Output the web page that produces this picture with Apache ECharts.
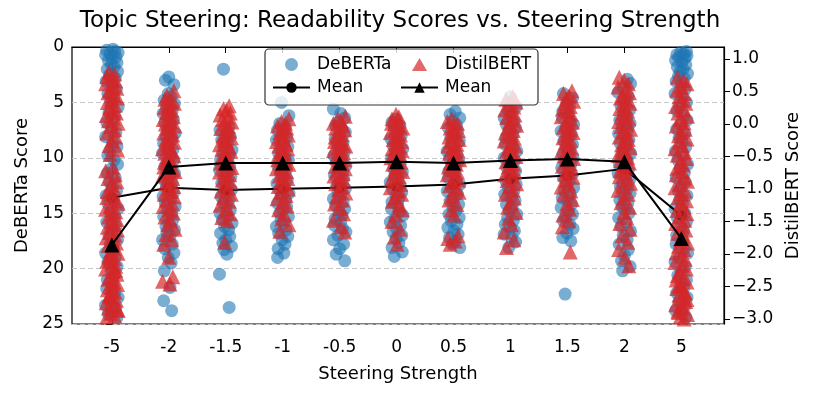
<!DOCTYPE html>
<html>
<head>
<meta charset="utf-8">
<script src="https://cdn.jsdelivr.net/npm/echarts@6/dist/echarts.min.js"></script>
<style>
html, body { margin: 0; background: #fff; }
#chart { width: 814px; height: 398px; }
</style>
</head>
<body>
<div id="chart"></div>
<script>
// steering strengths shown on the x axis
const steps = ['-5', '-2', '-1.5', '-1', '-0.5', '0', '0.5', '1', '1.5', '2', '5'];

// per-step means
const debertaMean = [13.6, 12.7, 12.9, 12.8, 12.7, 12.6, 12.4, 11.9, 11.6, 11.0, 15.2];
const distilMean = [-1.86, -0.66, -0.60, -0.60, -0.60, -0.58, -0.60, -0.56, -0.54, -0.58, -1.76];

// DeBERTa scores (left axis), one list per step
const debertaScores = [
  [0.2, 0.3, 0.4, 0.5, 0.6, 0.7, 0.9, 1.0, 1.2, 1.4, 1.6, 1.8, 2.0, 2.2, 2.5, 2.8, 3.1, 3.4, 3.8, 4.2, 4.6, 5.0, 5.4, 5.9, 6.3, 6.8, 7.2, 7.7, 8.1, 8.6, 9.0, 9.4, 9.8, 10.2, 10.6, 11.0, 11.4, 11.8, 12.2, 12.6, 13.0, 13.4, 13.8, 14.2, 14.6, 15.0, 15.4, 15.8, 16.2, 16.6, 17.0, 17.4, 17.8, 18.2, 18.6, 19.0, 19.4, 19.8, 20.2, 20.6, 21.0, 21.4, 21.8, 22.2, 22.6, 23.0, 23.3, 23.6, 23.9, 24.1, 24.4],
  [2.7, 3.0, 3.4, 4.2, 4.5, 4.8, 5.1, 5.4, 5.7, 6.0, 6.3, 6.6, 6.9, 7.2, 7.5, 7.8, 8.1, 8.4, 8.7, 9.0, 9.3, 9.6, 9.9, 10.2, 10.5, 10.8, 11.1, 11.4, 11.7, 12.0, 12.3, 12.6, 12.9, 13.2, 13.5, 13.8, 14.1, 14.4, 14.7, 15.0, 15.3, 15.6, 15.9, 16.2, 16.5, 16.8, 17.1, 17.4, 17.8, 18.2, 18.6, 19.0, 19.5, 20.2, 21.7, 22.9, 23.8],
  [2.0, 7.2, 7.5, 7.8, 8.1, 8.4, 8.7, 9.0, 9.3, 9.6, 9.9, 10.2, 10.5, 10.8, 11.1, 11.4, 11.7, 12.0, 12.3, 12.6, 12.9, 13.2, 13.5, 13.8, 14.1, 14.4, 14.7, 15.0, 15.3, 15.6, 15.9, 16.2, 16.5, 16.8, 17.1, 17.4, 17.7, 18.0, 18.3, 18.7, 20.5, 23.5],
  [5.0, 6.2, 6.9, 7.2, 7.5, 7.8, 8.1, 8.4, 8.7, 9.0, 9.3, 9.6, 9.9, 10.2, 10.5, 10.8, 11.1, 11.4, 11.7, 12.0, 12.3, 12.6, 12.9, 13.2, 13.5, 13.8, 14.1, 14.4, 14.7, 15.0, 15.3, 15.6, 15.9, 16.2, 16.5, 16.8, 17.1, 17.4, 17.8, 18.2, 18.6, 19.0],
  [5.6, 6.0, 6.4, 6.8, 7.1, 7.4, 7.7, 8.0, 8.3, 8.6, 8.9, 9.2, 9.5, 9.8, 10.1, 10.4, 10.7, 11.0, 11.3, 11.6, 11.9, 12.2, 12.5, 12.8, 13.1, 13.4, 13.7, 14.0, 14.3, 14.6, 14.9, 15.2, 15.5, 15.8, 16.1, 16.4, 16.7, 17.0, 17.4, 17.8, 18.2, 18.7, 19.3],
  [6.5, 6.8, 7.1, 7.4, 7.7, 8.0, 8.3, 8.6, 8.9, 9.2, 9.5, 9.8, 10.1, 10.4, 10.7, 11.0, 11.3, 11.6, 11.9, 12.2, 12.5, 12.8, 13.1, 13.4, 13.7, 14.0, 14.3, 14.6, 14.9, 15.2, 15.5, 15.8, 16.1, 16.4, 16.7, 17.0, 17.3, 17.7, 18.1, 18.5, 18.9],
  [5.8, 6.1, 6.4, 6.7, 7.0, 7.3, 7.6, 7.9, 8.2, 8.5, 8.8, 9.1, 9.4, 9.7, 10.0, 10.3, 10.6, 10.9, 11.2, 11.5, 11.8, 12.1, 12.4, 12.7, 13.0, 13.3, 13.6, 13.9, 14.2, 14.5, 14.8, 15.1, 15.4, 15.7, 16.0, 16.3, 16.6, 16.9, 17.2, 17.5, 17.8, 18.1],
  [4.5, 5.0, 5.4, 5.8, 6.1, 6.4, 6.7, 7.0, 7.3, 7.6, 7.9, 8.2, 8.5, 8.8, 9.1, 9.4, 9.7, 10.0, 10.3, 10.6, 10.9, 11.2, 11.5, 11.8, 12.1, 12.4, 12.7, 13.0, 13.3, 13.6, 13.9, 14.2, 14.5, 14.8, 15.1, 15.4, 15.7, 16.0, 16.3, 16.6, 16.9, 17.2, 17.6, 18.1],
  [4.2, 4.6, 5.0, 5.4, 5.8, 6.1, 6.4, 6.7, 7.0, 7.3, 7.6, 7.9, 8.2, 8.5, 8.8, 9.1, 9.4, 9.7, 10.0, 10.3, 10.6, 10.9, 11.2, 11.5, 11.8, 12.1, 12.4, 12.7, 13.0, 13.3, 13.6, 13.9, 14.2, 14.5, 14.8, 15.1, 15.4, 15.7, 16.0, 16.4, 16.8, 17.2, 17.5, 22.3],
  [2.9, 3.3, 3.7, 4.1, 4.5, 4.9, 5.3, 5.7, 6.0, 6.3, 6.6, 6.9, 7.2, 7.5, 7.8, 8.1, 8.4, 8.7, 9.0, 9.3, 9.6, 9.9, 10.2, 10.5, 10.8, 11.1, 11.4, 11.7, 12.0, 12.3, 12.6, 12.9, 13.2, 13.5, 13.8, 14.1, 14.4, 14.7, 15.0, 15.4, 15.8, 16.2, 16.6, 17.0, 17.4, 17.8, 18.3, 18.8, 19.3, 19.8, 20.2],
  [0.4, 0.5, 0.6, 0.7, 0.8, 0.9, 1.0, 1.2, 1.4, 1.6, 1.8, 2.0, 2.2, 2.4, 2.6, 2.8, 3.1, 3.4, 3.8, 4.2, 4.6, 5.0, 5.4, 5.8, 6.2, 6.6, 7.0, 7.4, 7.8, 8.2, 8.6, 9.0, 9.4, 9.8, 10.2, 10.6, 11.0, 11.4, 11.8, 12.2, 12.6, 13.0, 13.4, 13.8, 14.2, 14.6, 15.0, 15.4, 15.8, 16.2, 16.6, 17.0, 17.4, 17.8, 18.2, 18.6, 19.0, 19.4, 19.8, 20.2, 20.6, 21.0, 21.4, 21.8, 22.2, 22.6, 23.0, 23.4, 23.8, 24.1, 24.4]
];

// DistilBERT scores (right axis), one list per step
const distilScores = [
  [0.80, 0.77, 0.73, 0.70, 0.66, 0.62, 0.59, 0.55, 0.51, 0.48, 0.44, 0.40, 0.37, 0.33, 0.29, 0.25, 0.21, 0.17, 0.13, 0.09, 0.05, 0.01, -0.04, -0.09, -0.14, -0.20, -0.26, -0.33, -0.40, -0.47, -0.66, -0.72, -0.78, -0.84, -0.89, -0.94, -0.99, -1.04, -1.09, -1.13, -1.18, -1.22, -1.27, -1.31, -1.35, -1.39, -1.43, -1.47, -1.51, -1.55, -1.59, -1.63, -1.67, -1.71, -1.75, -1.79, -1.83, -1.87, -1.91, -1.95, -1.99, -2.03, -2.07, -2.11, -2.15, -2.19, -2.23, -2.27, -2.31, -2.35, -2.39, -2.43, -2.47, -2.51, -2.55, -2.59, -2.63, -2.67, -2.71, -2.75, -2.79, -2.83, -2.87, -2.91, -2.95, -2.97, -2.25, -2.45, -2.65, -2.85, -2.05, -1.85],
  [0.51, 0.44, 0.38, 0.35, 0.32, 0.28, 0.25, 0.21, 0.18, 0.14, 0.11, 0.07, 0.04, 0.00, -0.03, -0.07, -0.10, -0.14, -0.17, -0.21, -0.24, -0.28, -0.31, -0.35, -0.38, -0.42, -0.45, -0.49, -0.52, -0.56, -0.59, -0.63, -0.66, -0.70, -0.73, -0.77, -0.80, -0.84, -0.88, -0.92, -0.96, -1.00, -1.04, -1.08, -1.12, -1.17, -1.22, -1.27, -1.32, -1.37, -1.43, -1.49, -1.55, -1.62, -1.70, -1.78, -1.85, -2.05, -2.35, -2.42, -2.46],
  [0.28, 0.24, 0.21, 0.17, 0.14, 0.10, 0.07, 0.03, 0.00, -0.04, -0.07, -0.11, -0.14, -0.18, -0.21, -0.25, -0.28, -0.32, -0.35, -0.39, -0.42, -0.46, -0.49, -0.53, -0.56, -0.60, -0.63, -0.67, -0.70, -0.74, -0.78, -0.82, -0.86, -0.90, -0.94, -0.98, -1.03, -1.08, -1.13, -1.19, -1.25, -1.31, -1.38, -1.44, -1.49, -1.82],
  [0.08, 0.04, 0.01, -0.03, -0.06, -0.10, -0.13, -0.17, -0.20, -0.24, -0.27, -0.31, -0.34, -0.38, -0.41, -0.45, -0.48, -0.52, -0.55, -0.59, -0.62, -0.66, -0.69, -0.73, -0.76, -0.80, -0.84, -0.88, -0.92, -0.96, -1.00, -1.05, -1.10, -1.15, -1.20, -1.26, -1.32, -1.39, -1.46, -1.55, -1.65],
  [0.12, 0.08, 0.05, 0.01, -0.02, -0.06, -0.09, -0.13, -0.16, -0.20, -0.23, -0.27, -0.30, -0.34, -0.37, -0.41, -0.44, -0.48, -0.51, -0.55, -0.58, -0.62, -0.65, -0.69, -0.72, -0.76, -0.80, -0.84, -0.88, -0.92, -0.96, -1.01, -1.06, -1.11, -1.17, -1.23, -1.30, -1.38, -1.48, -1.58, -1.66],
  [0.15, 0.11, 0.08, 0.04, 0.01, -0.03, -0.06, -0.10, -0.13, -0.17, -0.20, -0.24, -0.27, -0.31, -0.34, -0.38, -0.41, -0.45, -0.48, -0.52, -0.55, -0.59, -0.62, -0.66, -0.69, -0.73, -0.77, -0.81, -0.85, -0.89, -0.93, -0.98, -1.03, -1.08, -1.13, -1.19, -1.25, -1.32, -1.40, -1.50, -1.62, -1.74, -1.85],
  [0.08, 0.04, 0.01, -0.03, -0.06, -0.10, -0.13, -0.17, -0.20, -0.24, -0.27, -0.31, -0.34, -0.38, -0.41, -0.45, -0.48, -0.52, -0.55, -0.59, -0.62, -0.66, -0.70, -0.74, -0.78, -0.82, -0.86, -0.90, -0.95, -1.00, -1.05, -1.11, -1.17, -1.24, -1.32, -1.40, -1.72, -1.76, -1.80, -1.85],
  [0.42, 0.38, 0.34, 0.30, 0.26, 0.22, 0.18, 0.14, 0.10, 0.06, 0.02, -0.02, -0.06, -0.10, -0.14, -0.18, -0.22, -0.26, -0.30, -0.34, -0.38, -0.42, -0.46, -0.50, -0.54, -0.58, -0.62, -0.66, -0.70, -0.74, -0.78, -0.82, -0.87, -0.92, -0.97, -1.02, -1.08, -1.14, -1.21, -1.28, -1.36, -1.45, -1.55, -1.66, -1.78, -1.90],
  [0.51, 0.47, 0.43, 0.39, 0.35, 0.31, 0.27, 0.23, 0.19, 0.15, 0.11, 0.07, 0.03, -0.01, -0.05, -0.09, -0.13, -0.17, -0.21, -0.25, -0.29, -0.33, -0.37, -0.41, -0.45, -0.49, -0.53, -0.57, -0.61, -0.65, -0.69, -0.73, -0.77, -0.82, -0.87, -0.92, -0.97, -1.03, -1.09, -1.16, -1.23, -1.31, -1.40, -1.49, -1.58, -1.97],
  [0.72, 0.67, 0.62, 0.57, 0.52, 0.48, 0.44, 0.40, 0.36, 0.32, 0.28, 0.24, 0.20, 0.16, 0.12, 0.08, 0.04, 0.00, -0.04, -0.08, -0.12, -0.16, -0.20, -0.24, -0.28, -0.32, -0.36, -0.40, -0.44, -0.48, -0.52, -0.56, -0.60, -0.64, -0.68, -0.72, -0.76, -0.81, -0.86, -0.91, -0.96, -1.02, -1.08, -1.14, -1.21, -1.28, -1.36, -1.44, -1.53, -1.62, -1.72, -1.82, -1.93, -2.05, -2.18],
  [0.72, 0.67, 0.62, 0.57, 0.52, 0.47, 0.42, 0.37, 0.32, 0.27, 0.22, 0.17, 0.12, 0.07, 0.02, -0.03, -0.08, -0.13, -0.18, -0.23, -0.28, -0.33, -0.38, -0.43, -0.48, -0.53, -0.58, -0.63, -0.68, -0.73, -0.78, -0.83, -0.88, -0.93, -0.98, -1.03, -1.08, -1.13, -1.18, -1.23, -1.28, -1.33, -1.38, -1.43, -1.48, -1.53, -1.58, -1.63, -1.68, -1.73, -1.78, -1.83, -1.88, -1.93, -1.98, -2.03, -2.08, -2.13, -2.18, -2.23, -2.28, -2.33, -2.38, -2.43, -2.48, -2.53, -2.58, -2.63, -2.68, -2.73, -2.78, -2.83, -2.88, -2.93, -2.97, -3.00, -2.40, -2.60, -2.80, -2.90, -2.70, -2.50]
];

// horizontal jitter of the points around each step
const jitter = [0.02, -0.09, 0.05, 0.11, -0.03, -0.11, 0.07, 0.00, -0.06, 0.09, -0.01, 0.04, -0.08, 0.10, -0.04, 0.06, -0.10, 0.01, 0.08, -0.07, 0.03, -0.02, 0.11, -0.05, 0.05, -0.09, 0.00, 0.07, -0.11, 0.02, 0.09, -0.03, -0.07, 0.04, 0.10, -0.01, -0.08, 0.06, -0.04, 0.01, 0.08, -0.10, 0.03, -0.06, 0.11, -0.02, 0.05, -0.09, 0.07, 0.00, -0.05, 0.10, -0.03, 0.02, -0.11, 0.06, -0.07, 0.09, -0.01, 0.04, -0.08];

const rightTicks = [-3, -2.5, -2, -1.5, -1, -0.5, 0, 0.5, 1];
const FONT = 'DejaVu Sans';
const triIcon = 'path://M6,0L12,10.4L0,10.4Z';

function cloud(lists, shift) {
  const out = [];
  lists.forEach((vals, i) => {
    vals.forEach((v, k) => out.push([i + jitter[(k + shift + i * 7) % jitter.length], v]));
  });
  return out;
}

const chart = echarts.init(document.getElementById('chart'));

const legendBase = {
  orient: 'vertical', top: 56, itemGap: 6, padding: 0,
  itemWidth: 37, itemHeight: 13, selectedMode: false, z: 20,
  formatter: n => n.indexOf('Mean') >= 0 ? 'Mean' : n,
  textStyle: { fontFamily: FONT, fontSize: 17, color: '#000', padding: [0, 0, 0, 2] }
};

const option = {
  animation: false,
  textStyle: { fontFamily: FONT },
  title: {
    text: 'Topic Steering: Readability Scores vs. Steering Strength',
    left: 395, top: 5, textAlign: 'center',
    textStyle: { fontFamily: FONT, fontSize: 23, fontWeight: 'normal', color: '#000' }
  },
  grid: { left: 72, right: 90, top: 47, bottom: 74, show: true, borderColor: '#000', borderWidth: 1.2 },
  legend: [
    Object.assign({}, legendBase, {
      left: 272,
      data: [{ name: 'DeBERTa', icon: 'circle' }, { name: 'DeBERTa Mean' }]
    }),
    Object.assign({}, legendBase, {
      left: 400,
      data: [{ name: 'DistilBERT', icon: triIcon }, { name: 'DistilBERT Mean' }]
    })
  ],
  graphic: [{
    type: 'rect', z: 15, silent: true,
    shape: { x: 265, y: 49, width: 273, height: 56, r: 4 },
    style: { fill: 'rgba(255,255,255,0.8)', stroke: '#333', lineWidth: 1.2 }
  }],
  xAxis: {
    type: 'value', min: -0.7, max: 10.75,
    splitLine: { show: false },
    axisLine: { lineStyle: { color: '#000', width: 1.2 } },
    axisTick: { customValues: steps.map((s, i) => i), length: 6, lineStyle: { color: '#000' } },
    axisLabel: {
      customValues: steps.map((s, i) => i), formatter: v => steps[Math.round(v)],
      fontSize: 17, color: '#000', margin: 15, fontFamily: FONT
    },
    name: 'Steering Strength', nameLocation: 'middle', nameGap: 41,
    nameTextStyle: { fontSize: 18, color: '#000', fontFamily: FONT }
  },
  yAxis: [
    {
      type: 'value', inverse: true, min: 0, max: 25, interval: 5,
      axisLine: { show: true, lineStyle: { color: '#000', width: 1.2 } },
      axisTick: { show: true, length: 6, lineStyle: { color: '#000' } },
      axisLabel: { fontSize: 17, color: '#000', margin: 8, fontFamily: FONT },
      splitLine: { show: true, lineStyle: { color: '#c8c8c8', type: [5, 3], width: 1 } },
      name: 'DeBERTa Score', nameLocation: 'middle', nameGap: 39, nameRotate: 90,
      nameTextStyle: { fontSize: 18, color: '#000', fontFamily: FONT }
    },
    {
      type: 'value', position: 'right', min: -3.077, max: 1.185,
      axisLine: { show: true, lineStyle: { color: '#000', width: 1.2 } },
      axisTick: { show: true, customValues: rightTicks, length: 6, lineStyle: { color: '#000' } },
      axisLabel: {
        customValues: rightTicks, fontSize: 17, color: '#000', margin: 8, fontFamily: FONT,
        formatter: v => (v < 0 ? '\u2212' : '') + Math.abs(v).toFixed(1)
      },
      splitLine: { show: false },
      name: 'DistilBERT Score', nameLocation: 'middle', nameGap: 51, nameRotate: 90,
      nameTextStyle: { fontSize: 18, color: '#000', fontFamily: FONT }
    }
  ],
  series: [
    {
      name: 'DeBERTa', type: 'scatter', xAxisIndex: 0, yAxisIndex: 0, z: 2,
      symbol: 'circle', symbolSize: 13,
      itemStyle: { color: '#1f77b4', opacity: 0.6 },
      data: cloud(debertaScores, 0)
    },
    {
      name: 'DeBERTa Mean', type: 'line', xAxisIndex: 0, yAxisIndex: 0, z: 3,
      symbol: 'circle', symbolSize: 11,
      lineStyle: { color: '#000', width: 2 }, itemStyle: { color: '#000' },
      data: debertaMean.map((v, i) => [i, v])
    },
    {
      name: 'DistilBERT', type: 'scatter', xAxisIndex: 0, yAxisIndex: 1, z: 4,
      symbol: 'triangle', symbolSize: 15,
      itemStyle: { color: '#d62728', opacity: 0.7 },
      data: cloud(distilScores, 23)
    },
    {
      name: 'DistilBERT Mean', type: 'line', xAxisIndex: 0, yAxisIndex: 1, z: 5,
      symbol: 'triangle', symbolSize: 15,
      lineStyle: { color: '#000', width: 2 }, itemStyle: { color: '#000' },
      data: distilMean.map((v, i) => [i, v])
    }
  ]
};

chart.setOption(option);
</script>
</body>
</html>
